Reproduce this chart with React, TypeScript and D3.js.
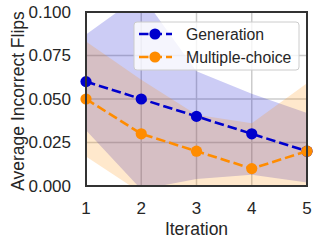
import React, { useEffect, useRef } from 'react';
import * as d3 from 'd3';

const iterations = [1, 2, 3, 4, 5];
const genMean = [0.06, 0.05, 0.04, 0.03, 0.02];
const genUpper = [0.087, 0.11, 0.066, 0.053, 0.042];
const genLower = [0.032, -0.002, 0.004, 0.0065, 0.002];
const mcMean = [0.05, 0.03, 0.02, 0.01, 0.02];
const mcUpper = [0.083, 0.061, 0.041, 0.036, 0.059];
const mcLower = [0.017, -0.004, -0.002, -0.016, -0.019];
const yTicks = [0, 0.025, 0.05, 0.075, 0.1];
const seriesNames = ['Generation', 'Multiple-choice'];

const FONT = '"Liberation Sans", Arial, sans-serif';

const App = () => {
  const chartRef = useRef<SVGSVGElement>(null);

  useEffect(() => {
    const width = 319;
    const height = 244;
    const margin = { top: 12, right: 12, bottom: 58, left: 86 };

    const svg = d3.select(chartRef.current).attr('width', width).attr('height', height);
    svg.selectAll('*').remove();

    const x = d3.scaleLinear().domain([1, 5]).range([margin.left, width - margin.right]);
    const y = d3.scaleLinear().domain([0, 0.1]).range([height - margin.bottom, margin.top]);

    svg
      .append('defs')
      .append('clipPath')
      .attr('id', 'plot-clip')
      .append('rect')
      .attr('x', x(1))
      .attr('y', y(0.1))
      .attr('width', x(5) - x(1))
      .attr('height', y(0) - y(0.1));

    // grid
    svg
      .append('g')
      .selectAll('line')
      .data(iterations)
      .enter()
      .append('line')
      .attr('x1', (d) => x(d))
      .attr('x2', (d) => x(d))
      .attr('y1', y(0))
      .attr('y2', y(0.1))
      .attr('stroke', '#cccccc')
      .attr('stroke-width', 1.5);
    svg
      .append('g')
      .selectAll('line')
      .data(yTicks)
      .enter()
      .append('line')
      .attr('x1', x(1))
      .attr('x2', x(5))
      .attr('y1', (d) => y(d))
      .attr('y2', (d) => y(d))
      .attr('stroke', '#cccccc')
      .attr('stroke-width', 1.5);

    const series = [
      { mean: genMean, upper: genUpper, lower: genLower, color: '#0000cd' },
      { mean: mcMean, upper: mcUpper, lower: mcLower, color: '#ff8c00' },
    ];

    const area = d3
      .area<number>()
      .x((d) => x(d))
      .y0((d, i) => y(0))
      .y1((d, i) => y(0));

    const plot = svg.append('g').attr('clip-path', 'url(#plot-clip)');

    // bands
    series.forEach((s) => {
      const band = d3
        .area<number>()
        .x((d) => x(d))
        .y0((d, i) => y(s.lower[i]))
        .y1((d, i) => y(s.upper[i]));
      plot.append('path').attr('d', band(iterations)).attr('fill', s.color).attr('fill-opacity', 0.2);
    });
    void area;

    // lines + markers
    series.forEach((s) => {
      const line = d3
        .line<number>()
        .x((d) => x(d))
        .y((d, i) => y(s.mean[i]));
      svg
        .append('path')
        .attr('d', line(iterations))
        .attr('fill', 'none')
        .attr('stroke', s.color)
        .attr('stroke-width', 2.6)
        .attr('stroke-dasharray', '9.5,4');
      svg
        .append('g')
        .selectAll('circle')
        .data(iterations)
        .enter()
        .append('circle')
        .attr('cx', (d) => x(d))
        .attr('cy', (d, i) => y(s.mean[i]))
        .attr('r', 5.6)
        .attr('fill', s.color);
    });

    // frame
    svg
      .append('rect')
      .attr('x', x(1))
      .attr('y', y(0.1))
      .attr('width', x(5) - x(1))
      .attr('height', y(0) - y(0.1))
      .attr('fill', 'none')
      .attr('stroke', '#333333')
      .attr('stroke-width', 2);

    // tick labels
    svg
      .append('g')
      .selectAll('text')
      .data(yTicks)
      .enter()
      .append('text')
      .attr('x', x(1) - 15)
      .attr('y', (d) => y(d))
      .attr('text-anchor', 'end')
      .attr('dominant-baseline', 'central')
      .style('font-family', FONT)
      .style('font-size', '17px')
      .style('fill', '#262626')
      .text((d) => d3.format('.3f')(d));
    svg
      .append('g')
      .selectAll('text')
      .data(iterations)
      .enter()
      .append('text')
      .attr('x', (d) => x(d))
      .attr('y', 214)
      .attr('text-anchor', 'middle')
      .style('font-family', FONT)
      .style('font-size', '17px')
      .style('fill', '#262626')
      .text((d) => String(d));

    // axis labels
    svg
      .append('text')
      .attr('x', (x(1) + x(5)) / 2)
      .attr('y', 235)
      .attr('text-anchor', 'middle')
      .style('font-family', FONT)
      .style('font-size', '17.5px')
      .style('fill', '#262626')
      .text('Iteration');
    svg
      .append('text')
      .attr('transform', `translate(24, ${(y(0) + y(0.1)) / 2 + 2}) rotate(-90)`)
      .attr('text-anchor', 'middle')
      .style('font-family', FONT)
      .style('font-size', '17.5px')
      .style('fill', '#262626')
      .text('Average Incorrect Flips');

    // legend
    const legend = svg.append('g');
    legend
      .append('rect')
      .attr('x', 134)
      .attr('y', 22)
      .attr('width', 165)
      .attr('height', 48)
      .attr('rx', 3)
      .attr('fill', '#ffffff')
      .attr('fill-opacity', 0.8)
      .attr('stroke', '#cccccc')
      .attr('stroke-width', 1);
    series.forEach((s, i) => {
      const ly = 34 + i * 23;
      legend
        .append('line')
        .attr('x1', 139)
        .attr('x2', 172)
        .attr('y1', ly)
        .attr('y2', ly)
        .attr('stroke', s.color)
        .attr('stroke-width', 2.6)
        .attr('stroke-dasharray', '9.5,4');
      legend.append('circle').attr('cx', 155).attr('cy', ly).attr('r', 5.6).attr('fill', s.color);
      legend
        .append('text')
        .attr('x', 186)
        .attr('y', ly)
        .attr('dominant-baseline', 'central')
        .style('font-family', FONT)
        .style('font-size', '15.8px')
        .style('fill', '#262626')
        .text(seriesNames[i]);
    });
  }, []);

  return <svg ref={chartRef} style={{ position: 'absolute', left: 0, top: 0 }}></svg>;
};

export default App;
